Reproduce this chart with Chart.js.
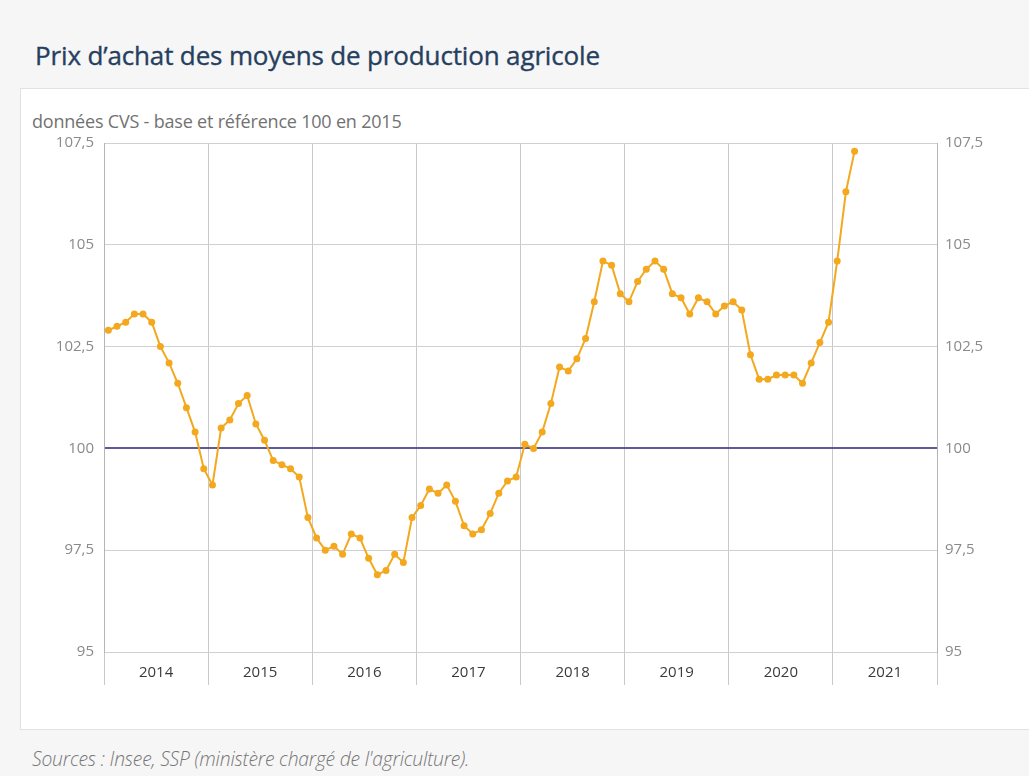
<!DOCTYPE html>
<html lang="fr">
<head>
<meta charset="utf-8">
<title>Prix d'achat des moyens de production agricole</title>
<script src="https://cdn.jsdelivr.net/npm/chart.js@4.4.1/dist/chart.umd.min.js"></script>
<style>
  html, body { margin: 0; padding: 0; }
  body {
    width: 1029px; height: 776px; position: relative; overflow: hidden;
    background: #f6f6f6; font-family: "Open Sans", "DejaVu Sans", sans-serif;
  }
  h1 {
    position: absolute; left: 35px; top: 38px; margin: 0; line-height: 34px;
    font-size: 26px; font-weight: 500; color: #263f5f; letter-spacing: -0.15px;
    -webkit-text-stroke: 0.35px #263f5f;
  }
  .panel {
    position: absolute; left: 20px; top: 88px; width: 1009px; height: 642px;
    background: #ffffff; border-left: 1px solid #e2e2e2; border-top: 1px solid #e2e2e2;
    border-bottom: 1px solid #e2e2e2; box-sizing: border-box;
  }
  .unit {
    position: absolute; left: 32px; top: 110px; margin: 0; line-height: 22px;
    font-size: 18px; color: #727272; letter-spacing: -0.2px;
  }
  .source {
    position: absolute; left: 32px; top: 747px; margin: 0; line-height: 24px;
    font-size: 19.3px; font-style: italic; font-weight: 300; color: #767676; letter-spacing: -0.2px;
  }
  canvas { position: absolute; left: 20px; top: 88px; }
</style>
</head>
<body>
<h1>Prix d’achat des moyens de production agricole</h1>
<div class="panel"></div>
<p class="unit">données CVS - base et référence 100 en 2015</p>
<canvas id="chart" width="1009" height="642"></canvas>
<p class="source">Sources : Insee, SSP (ministère chargé de l'agriculture).</p>

<script>
// Indice mensuel IPAMPA, janvier 2014 à mars 2021
const years = ['2014', '2015', '2016', '2017', '2018', '2019', '2020', '2021'];
const v2014 = [102.9, 103.0, 103.1, 103.3, 103.3, 103.1, 102.5, 102.1, 101.6, 101.0, 100.4, 99.5];
const v2015 = [99.1, 100.5, 100.7, 101.1, 101.3, 100.6, 100.2, 99.7, 99.6, 99.5, 99.3, 98.3];
const v2016 = [97.8, 97.5, 97.6, 97.4, 97.9, 97.8, 97.3, 96.9, 97.0, 97.4, 97.2, 98.3];
const v2017 = [98.6, 99.0, 98.9, 99.1, 98.7, 98.1, 97.9, 98.0, 98.4, 98.9, 99.2, 99.3];
const v2018 = [100.1, 100.0, 100.4, 101.1, 102.0, 101.9, 102.2, 102.7, 103.6, 104.6, 104.5, 103.8];
const v2019 = [103.6, 104.1, 104.4, 104.6, 104.4, 103.8, 103.7, 103.3, 103.7, 103.6, 103.3, 103.5];
const v2020 = [103.6, 103.4, 102.3, 101.7, 101.7, 101.8, 101.8, 101.8, 101.6, 102.1, 102.6, 103.1];
const v2021 = [104.6, 106.3, 107.3];
const yTicks = [95, 97.5, 100, 102.5, 105, 107.5];
const referenceLevel = 100;

const series = [].concat(v2014, v2015, v2016, v2017, v2018, v2019, v2020, v2021);
// x = month index counted from January of the first year
const points = series.map((y, i) => ({ x: i, y: y }));

const monthsPerYear = 12;
const xMin = -0.5;
const xMax = years.length * monthsPerYear - 0.5;
const yearBounds = [];
for (let k = 0; k <= years.length; k++) yearBounds.push(xMin + k * monthsPerYear);
const yearMids = years.map((_, k) => xMin + k * monthsPerYear + monthsPerYear / 2);
const isBound = v => yearBounds.some(b => Math.abs(b - v) < 1e-6);

const fmt = v => String(v).replace('.', ',');
const tickFont = { family: '"Open Sans", "DejaVu Sans", sans-serif', size: 15 };

new Chart(document.getElementById('chart'), {
  type: 'line',
  data: {
    datasets: [{
      data: points,
      borderColor: '#f3a81e',
      backgroundColor: '#f3a81e',
      borderWidth: 2,
      pointRadius: 3.5,
      pointHoverRadius: 4,
      pointBorderWidth: 0,
      tension: 0
    }]
  },
  options: {
    responsive: false,
    animation: false,
    layout: { padding: { top: 55, left: 0, right: 0, bottom: 0 } },
    plugins: { legend: { display: false }, tooltip: { enabled: false }, title: { display: false } },
    scales: {
      x: {
        type: 'linear',
        position: 'bottom',
        min: xMin,
        max: xMax,
        afterBuildTicks: s => {
          s.ticks = yearBounds.concat(yearMids).sort((a, b) => a - b).map(v => ({ value: v }));
        },
        afterFit: s => { s.height = 78; },
        ticks: {
          autoSkip: false,
          maxRotation: 0,
          padding: -21,
          color: '#3a3a3a',
          font: tickFont,
          callback: v => {
            const k = yearMids.findIndex(m => Math.abs(m - v) < 1e-6);
            return k >= 0 ? years[k] : '';
          }
        },
        grid: {
          drawTicks: true,
          tickLength: 33,
          color: c => (c.tick && isBound(c.tick.value)) ? '#c9c9c9' : 'rgba(0,0,0,0)',
          tickColor: c => (c.tick && isBound(c.tick.value)) ? '#c9c9c9' : 'rgba(0,0,0,0)',
          lineWidth: 1
        },
        border: { display: false }
      },
      y: {
        type: 'linear',
        position: 'left',
        min: yTicks[0],
        max: yTicks[yTicks.length - 1],
        afterBuildTicks: s => { s.ticks = yTicks.map(v => ({ value: v })); },
        afterFit: s => { s.width = 84; },
        ticks: { color: '#8a8a8a', font: tickFont, padding: 10, callback: v => fmt(v) },
        grid: {
          drawTicks: false,
          color: c => (c.tick && c.tick.value === referenceLevel) ? '#5d5a9c' : '#d0d0d0',
          lineWidth: c => (c.tick && c.tick.value === referenceLevel) ? 2 : 1
        },
        border: { display: true, color: '#b5b5b5' }
      },
      y2: {
        type: 'linear',
        position: 'right',
        min: yTicks[0],
        max: yTicks[yTicks.length - 1],
        afterBuildTicks: s => { s.ticks = yTicks.map(v => ({ value: v })); },
        afterFit: s => { s.width = 92; },
        ticks: { color: '#8a8a8a', font: tickFont, padding: 8, callback: v => fmt(v) },
        grid: { display: false, drawTicks: false },
        border: { display: true, color: '#b5b5b5' }
      }
    }
  }
});
</script>
</body>
</html>
